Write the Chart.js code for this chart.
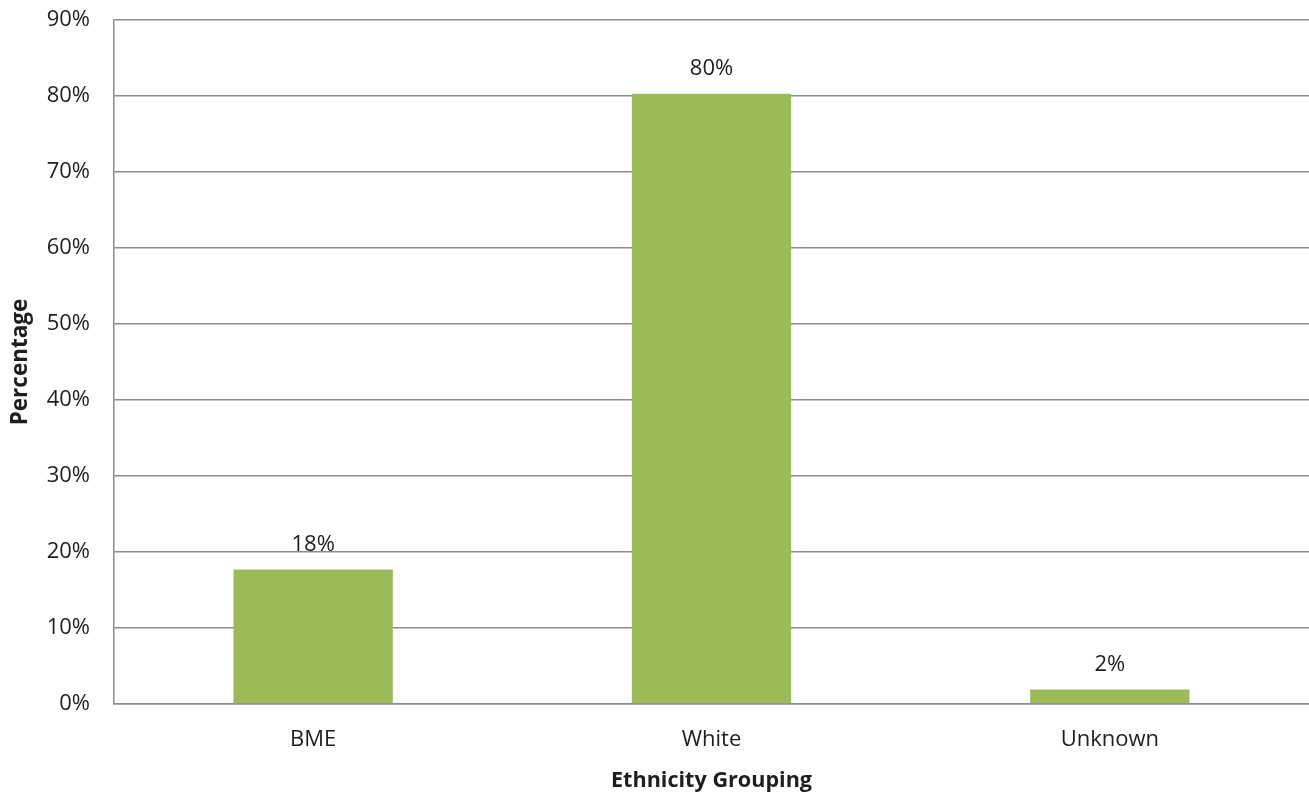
<!DOCTYPE html>
<html>
<head>
<meta charset="utf-8">
<script src="https://cdn.jsdelivr.net/npm/chart.js@4.4.1/dist/chart.umd.min.js"></script>
<style>
  html, body { margin: 0; padding: 0; background: #fff; }
  #wrap { width: 1309px; height: 796px; position: relative; }
</style>
</head>
<body>
<div id="wrap"><canvas id="chart"></canvas></div>
<script>
/* ---------- data ---------- */
const categories = ['BME', 'White', 'Unknown'];
const shares = [17.7, 80.3, 1.9];
const shareLabels = ['18%', '80%', '2%'];
const yTicks = [0, 10, 20, 30, 40, 50, 60, 70, 80, 90];

const FONT = 'Open Sans';
const GRID = '#8c8c8c';
const TEXT = '#1e1e1e';

// draws the value text above each bar
const barValues = {
  id: 'barValues',
  afterDatasetsDraw(chart) {
    const ctx = chart.ctx;
    const meta = chart.getDatasetMeta(0);
    ctx.save();
    ctx.font = '22px "' + FONT + '"';
    ctx.fillStyle = TEXT;
    ctx.textAlign = 'center';
    ctx.textBaseline = 'bottom';
    meta.data.forEach((bar, i) => {
      ctx.fillText(shareLabels[i], bar.x, bar.y - 14);
    });
    ctx.restore();
  }
};

new Chart(document.getElementById('chart'), {
  type: 'bar',
  data: {
    labels: categories,
    datasets: [{
      data: shares,
      backgroundColor: '#9bbb59',
      borderWidth: 0,
      categoryPercentage: 1,
      barPercentage: 0.4
    }]
  },
  options: {
    responsive: true,
    maintainAspectRatio: false,
    animation: false,
    layout: { padding: { top: 20, right: 0, bottom: 0, left: 0 } },
    plugins: {
      legend: { display: false },
      tooltip: { enabled: false }
    },
    scales: {
      x: {
        grid: { display: false, drawTicks: false },
        border: { display: true, color: GRID, width: 1.5 },
        ticks: { color: TEXT, font: { family: FONT, size: 22 }, padding: 23 },
        title: {
          display: true,
          text: 'Ethnicity Grouping',
          color: TEXT,
          font: { family: FONT, size: 21.6, weight: 'bold' },
          padding: { top: 6, bottom: 2 }
        },
        afterFit(scale) {
          scale.height = 92;
          scale.paddingLeft = 0;
          scale.paddingRight = 0;
        }
      },
      y: {
        min: 0,
        max: 90,
        afterBuildTicks(scale) { scale.ticks = yTicks.map(v => ({ value: v })); },
        grid: { color: GRID, lineWidth: 1.5, drawTicks: false },
        border: { display: true, color: GRID, width: 1.5 },
        ticks: {
          color: TEXT,
          font: { family: FONT, size: 22 },
          padding: 24,
          callback: v => v + '%'
        },
        title: {
          display: true,
          text: 'Percentage',
          color: TEXT,
          font: { family: FONT, size: 22.5, weight: 'bold' },
          padding: { top: 7, bottom: 0 }
        },
        afterFit(scale) {
          scale.width = 114;
          // the tick padding would otherwise push the plot down
          scale.paddingTop = 0;
          scale.paddingBottom = 0;
        }
      }
    }
  },
  plugins: [barValues]
});
</script>
</body>
</html>
